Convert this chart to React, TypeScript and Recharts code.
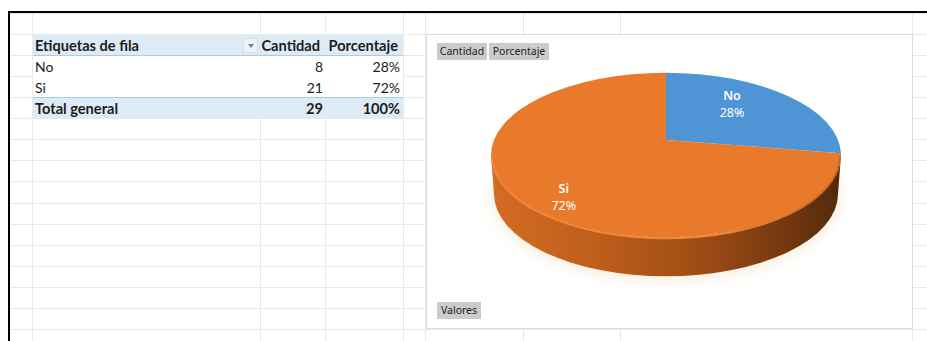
import React from 'react';
import { PieChart, Pie, Cell } from 'recharts';

const categories = ['No', 'Si'];
const cantidad = [8, 21];
const porcentaje = ['28%', '72%'];
const totalLabel = 'Total general';
const totalCantidad = '29';
const totalPorcentaje = '100%';
const sliceColors = ['#4F95D6', '#E97A2C'];

const pieData = categories.map((name, i) => ({ name, value: cantidad[i], pct: porcentaje[i] }));

// Sheet grid
const gridCols = [32, 260, 325, 403, 425, 523, 620, 912];
const gridRows = [13, 34, 55, 76, 97, 118, 139, 160, 181, 203, 224, 245, 266, 287, 308, 329];

const FONT_TABLE = 'Lato, sans-serif';
const FONT_CHART = '"Noto Sans", sans-serif';

// Tilted disc: squash plus a perspective shift of the pie centre
const SQUASH = 0.47;
const PERSP = 0.183;
const DEPTH = 39;
const RAD = Math.PI / 180;

const project = (cx: number, cy: number, rx: number, angle: number, r = 1) => {
    const ry = rx * SQUASH;
    const u = r * Math.cos(angle * RAD);
    const v = r * Math.sin(angle * RAD);
    const w = 1 + PERSP * v;
    return {
        x: cx + (rx * Math.sqrt(1 - PERSP * PERSP) * u) / w,
        y: cy - (ry * (v + PERSP)) / w,
    };
};

const DiscSlice = (props: any) => {
    const { cx, cy, outerRadius, startAngle, endAngle, fill, index } = props;
    const rx = outerRadius;
    const ry = rx * SQUASH;
    const a = project(cx, cy, rx, startAngle);
    const b = project(cx, cy, rx, endAngle);
    const apex = project(cx, cy, rx, 0, 0);
    const large = Math.abs(startAngle - endAngle) > 180 ? 1 : 0;
    const top = `M${apex.x},${apex.y} L${a.x},${a.y} A${rx},${ry} 0 ${large} 1 ${b.x},${b.y} Z`;

    // shadow and front wall go in with the first slice so they stay underneath
    const wall = `M${cx - rx},${cy} A${rx},${ry} 0 0 0 ${cx + rx},${cy} L${cx + rx - 3},${cy + DEPTH} A${rx - 3},${ry} 0 0 1 ${cx - rx + 3},${cy + DEPTH} Z`;
    const rim = `M${cx - rx + 1},${cy + 1} A${rx - 1},${ry} 0 0 0 ${cx + rx - 1},${cy + 1}`;

    return (
        <g>
            {index === 0 && (
                <>
                    <defs>
                        <linearGradient id="wallGrad" x1="0" y1="0" x2="1" y2="0">
                            <stop offset="0%" stopColor="#D46C23" />
                            <stop offset="30%" stopColor="#BE5F1C" />
                            <stop offset="60%" stopColor="#9E4C14" />
                            <stop offset="85%" stopColor="#743710" />
                            <stop offset="100%" stopColor="#4F2A0C" />
                        </linearGradient>
                        <linearGradient id="rimGrad" x1="0" y1="0" x2="1" y2="0">
                            <stop offset="0%" stopColor="#EE8538" />
                            <stop offset="60%" stopColor="#F08A3E" />
                            <stop offset="100%" stopColor="#C9661F" />
                        </linearGradient>
                        <filter id="discShadow" x="-20%" y="-20%" width="140%" height="140%">
                            <feGaussianBlur stdDeviation="6" />
                        </filter>
                    </defs>
                    <ellipse cx={cx} cy={cy + DEPTH + 3} rx={rx} ry={ry + 2} fill="#F8EEDF" filter="url(#discShadow)" />
                    <path d={wall} fill="url(#wallGrad)" />
                </>
            )}
            <path d={top} fill={fill} />
            {index === 1 && <path d={rim} fill="none" stroke="url(#rimGrad)" strokeWidth={2} />}
        </g>
    );
};

// Excel places these by hand-ish rules, so small nudges on the computed spot
const labelNudge = [
    [-21, -2],
    [1, 17],
];

const renderLabel = (props: any) => {
    const { cx, cy, outerRadius, midAngle, index, payload } = props;
    const spot = project(cx, cy, outerRadius, midAngle, 0.72);
    const x = spot.x + labelNudge[index][0];
    const y = spot.y + labelNudge[index][1];
    return (
        <text x={x} y={y} textAnchor="middle" fill="#FFFFFF" fontFamily={FONT_CHART} fontSize={12.5}>
            <tspan x={x} dy={-4} fontWeight={600}>{payload.name}</tspan>
            <tspan x={x} dy={17}>{payload.pct}</tspan>
        </text>
    );
};

const FieldButton = ({ left, top, width, text }: { left: number; top: number; width: number; text: string }) => (
    <div
        style={{
            position: 'absolute', left, top, width, height: 17, background: '#CBCBCB', color: '#222',
            fontFamily: FONT_CHART, fontSize: 10.5, lineHeight: '17px', textAlign: 'center',
        }}
    >
        {text}
    </div>
);

const Cell2 = ({ left, top, width, text, bold, right }: { left: number; top: number; width: number; text: string; bold?: boolean; right?: boolean }) => (
    <div
        style={{
            position: 'absolute', left, top, width, height: 20, lineHeight: '20px', whiteSpace: 'nowrap',
            fontFamily: FONT_TABLE, fontSize: bold ? 14.6 : 14, fontWeight: bold ? 700 : 400, color: '#1c1c1c',
            textAlign: right ? 'right' : 'left',
        }}
    >
        {text}
    </div>
);

export default function App() {
    return (
        <div style={{ position: 'fixed', left: 0, top: 0, width: 927, height: 341, overflow: 'hidden', background: '#fff' }}>
            {/* sheet grid */}
            {gridCols.map(x => (
                <div key={x} style={{ position: 'absolute', left: x, top: 13, width: 1, height: 328, background: '#E9E9E9' }} />
            ))}
            {gridRows.map(y => (
                <div key={y} style={{ position: 'absolute', left: 10, top: y, width: 917, height: 1, background: '#E9E9E9' }} />
            ))}

            {/* window frame */}
            <div style={{ position: 'absolute', left: 8, top: 11, width: 919, height: 2, background: '#000' }} />
            <div style={{ position: 'absolute', left: 8, top: 11, width: 2, height: 330, background: '#000' }} />

            {/* pivot table */}
            <div style={{ position: 'absolute', left: 33, top: 35, width: 370, height: 20, background: '#DDEBF7' }} />
            <div style={{ position: 'absolute', left: 33, top: 55, width: 370, height: 1, background: '#A9CBE8' }} />
            <div style={{ position: 'absolute', left: 33, top: 56, width: 370, height: 41, background: '#fff' }} />
            <div style={{ position: 'absolute', left: 33, top: 97, width: 370, height: 1, background: '#A9CBE8' }} />
            <div style={{ position: 'absolute', left: 33, top: 98, width: 370, height: 21, background: '#DDEBF7' }} />
            <div style={{ position: 'absolute', left: 243, top: 38, width: 15, height: 15, background: '#EEF3F8', border: '1px solid #D5DEE6', boxSizing: 'border-box' }} />
            <div style={{ position: 'absolute', left: 248, top: 44, width: 0, height: 0, borderLeft: '3px solid transparent', borderRight: '3px solid transparent', borderTop: '4px solid #6F7F8F' }} />

            <Cell2 left={35} top={36} width={200} text="Etiquetas de fila" bold />
            <Cell2 left={255} top={36} width={65} text="Cantidad" bold right />
            <Cell2 left={322} top={36} width={76} text="Porcentaje" bold right />
            {categories.map((c, i) => (
                <React.Fragment key={c}>
                    <Cell2 left={35} top={57 + i * 21} width={200} text={c} />
                    <Cell2 left={260} top={57 + i * 21} width={63} text={String(cantidad[i])} right />
                    <Cell2 left={325} top={57 + i * 21} width={75} text={porcentaje[i]} right />
                </React.Fragment>
            ))}
            <Cell2 left={35} top={99} width={200} text={totalLabel} bold />
            <Cell2 left={260} top={99} width={63} text={totalCantidad} bold right />
            <Cell2 left={325} top={99} width={75} text={totalPorcentaje} bold right />

            {/* chart panel */}
            <div style={{ position: 'absolute', left: 426, top: 34, width: 487, height: 295, background: '#fff', border: '1px solid #DCDCDC', boxSizing: 'border-box' }} />
            <FieldButton left={437} top={43} width={50} text="Cantidad" />
            <FieldButton left={489} top={43} width={60} text="Porcentaje" />
            <FieldButton left={437} top={302} width={44} text="Valores" />

            <div style={{ position: 'absolute', left: 0, top: 0 }}>
                <PieChart width={927} height={341} margin={{ top: 0, right: 0, bottom: 0, left: 0 }}>
                    <Pie
                        data={pieData}
                        dataKey="value"
                        nameKey="name"
                        cx={666}
                        cy={155}
                        innerRadius={0}
                        outerRadius={175}
                        startAngle={90}
                        endAngle={-270}
                        stroke="none"
                        shape={DiscSlice}
                        label={renderLabel}
                        labelLine={false}
                        isAnimationActive={false}
                    >
                        {pieData.map((d, i) => (
                            <Cell key={d.name} fill={sliceColors[i]} />
                        ))}
                    </Pie>
                </PieChart>
            </div>
        </div>
    );
}
